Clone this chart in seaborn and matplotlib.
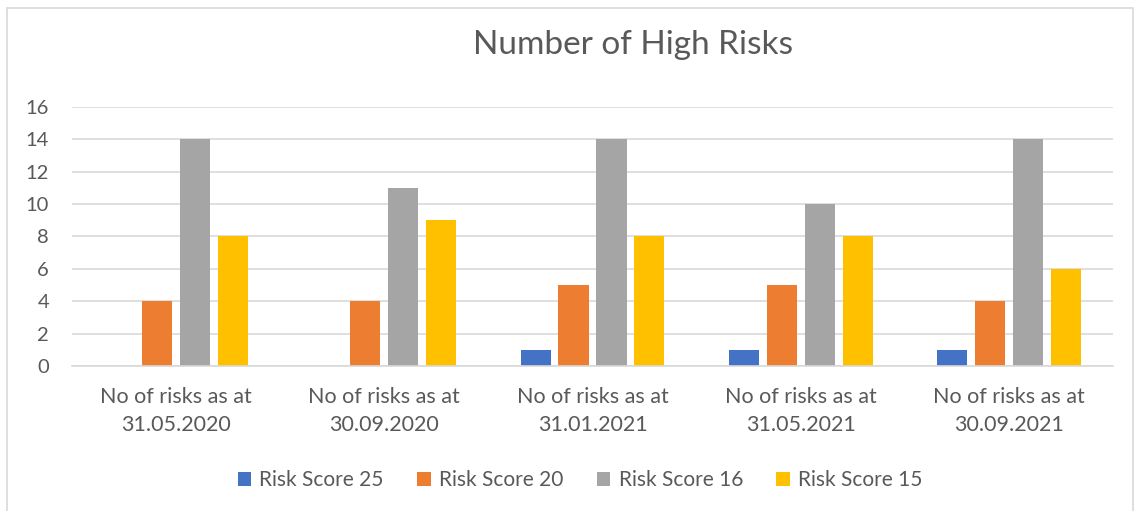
import pandas as pd
import matplotlib.pyplot as plt
import seaborn as sns
from matplotlib.patches import Rectangle

# chart data
dates = ['31.05.2020', '30.09.2020', '31.01.2021', '31.05.2021', '30.09.2021']
series = ['Risk Score 25', 'Risk Score 20', 'Risk Score 16', 'Risk Score 15']
score_25 = [0, 0, 1, 1, 1]
score_20 = [4, 4, 5, 5, 4]
score_16 = [14, 11, 14, 10, 14]
score_15 = [8, 9, 8, 8, 6]
colors = ['#4472C4', '#ED7D31', '#A5A5A5', '#FFC000']

categories = ['No of risks as at\n' + d for d in dates]
rows = []
for name, vals in zip(series, [score_25, score_20, score_16, score_15]):
    for cat, v in zip(categories, vals):
        rows.append({'category': cat, 'series': name, 'count': v})
df = pd.DataFrame(rows)

sns.set_style('white')
plt.rcParams['font.family'] = ['Lato', 'DejaVu Sans']

fig = plt.figure(figsize=(11.38, 5.11), dpi=100)
ax = fig.add_axes([0.0633, 0.2838, 0.9147, 0.5068])

sns.barplot(data=df, x='category', y='count', hue='series', hue_order=series,
            palette=colors, saturation=1, width=0.73, gap=0.21,
            linewidth=0, ax=ax, legend=True)

ax.set_ylim(0, 16)
ax.set_xlim(-0.5, 4.5)
ax.set_yticks(range(0, 17, 2))
ax.yaxis.grid(True, color='#d9d9d9', linewidth=1.2)
ax.set_axisbelow(True)
ax.set_xlabel('')
ax.set_ylabel('')
for s in ['top', 'right', 'left']:
    ax.spines[s].set_visible(False)
ax.spines['bottom'].set_color('#d9d9d9')
ax.spines['bottom'].set_linewidth(1.2)
ax.tick_params(axis='y', length=0, colors='#595959', labelsize=14.5, pad=16.5)
ax.tick_params(axis='x', length=0, colors='#595959', labelsize=15.5, pad=15)
for lbl in ax.get_xticklabels():
    lbl.set_linespacing(1.5)

ax.legend(loc='center', bbox_to_anchor=(0.488, -0.44), ncol=4,
          frameon=False, fontsize=15, labelcolor='#595959',
          handlelength=0.65, handleheight=0.65, handletextpad=0.4,
          columnspacing=1.6)

fig.text(0.556, 0.912, 'Number of High Risks', ha='center', va='center',
         fontsize=24, color='#595959')

# chart area border
fig.patches.append(Rectangle((7 / 1138, -0.01), 1126 / 1138, 1 - 8 / 511 + 0.01,
                             transform=fig.transFigure, fill=False,
                             edgecolor='#d9d9d9', linewidth=1.2))

fig.savefig('out.png', dpi=100)
